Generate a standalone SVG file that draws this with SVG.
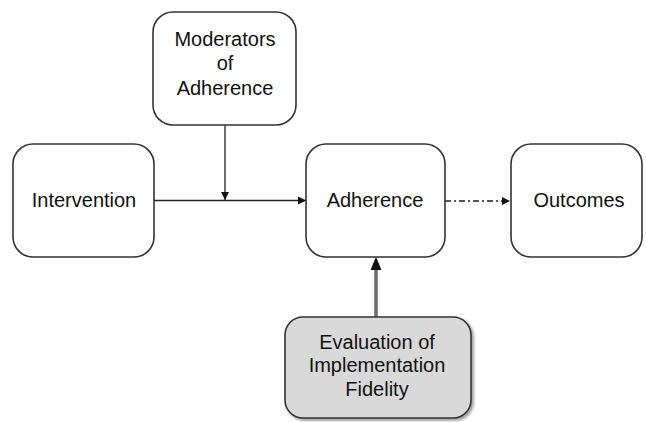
<svg xmlns="http://www.w3.org/2000/svg" width="646" height="422" viewBox="0 0 646 422">
<defs>
<marker id="ah" markerWidth="10" markerHeight="10" refX="9" refY="5" orient="auto" markerUnits="userSpaceOnUse">
<path d="M1,1 L9,5 L1,9 Z" fill="#111"/>
</marker>
<filter id="sh" x="-10%" y="-10%" width="125%" height="130%">
<feGaussianBlur in="SourceAlpha" stdDeviation="1.5"/>
<feOffset dx="2" dy="2"/>
<feComponentTransfer><feFuncA type="linear" slope="0.4"/></feComponentTransfer>
<feMerge><feMergeNode/><feMergeNode in="SourceGraphic"/></feMerge>
</filter>
</defs>
<style>
.box{fill:#fff;stroke:#333;stroke-width:1.6}
.gbox{fill:#d9d9d9;stroke:#333;stroke-width:1.6}
.t{font-family:"Liberation Sans",Arial,sans-serif;font-size:20px;fill:#111;text-anchor:middle}
.ln{stroke:#222;stroke-width:1.3;fill:none}
</style>
<rect width="646" height="422" fill="#fff"/>
<g id="connectors">
<line class="ln" x1="225" y1="125" x2="225" y2="200" marker-end="url(#ah)"/>
<line class="ln" x1="154" y1="200.5" x2="306" y2="200.5" marker-end="url(#ah)"/>
<line class="ln" x1="445" y1="201" x2="510" y2="201" stroke-dasharray="6 3 2 3" marker-end="url(#ah)"/>
<line x1="376" y1="317" x2="376" y2="260" stroke="#444" stroke-width="3.2"/>
<line x1="376" y1="317" x2="376" y2="262" stroke="#999" stroke-width="1"/>
<path d="M370.5,270 L376,257 L381.5,270 Z" fill="#111"/>
</g>
<g id="moderators">
<rect class="box" x="153" y="12" width="143" height="113" rx="20"/>
<text class="t" x="225" y="46">Moderators</text>
<text class="t" x="225" y="70">of</text>
<text class="t" x="225" y="95">Adherence</text>
</g>
<g id="intervention">
<rect class="box" x="13" y="144" width="141" height="113" rx="20"/>
<text class="t" x="84" y="207">Intervention</text>
</g>
<g id="adherence">
<rect class="box" x="306" y="144" width="139" height="113" rx="20"/>
<text class="t" x="375" y="207">Adherence</text>
</g>
<g id="outcomes">
<rect class="box" x="511" y="144" width="131" height="113" rx="20"/>
<text class="t" x="579" y="207">Outcomes</text>
</g>
<g id="evaluation">
<rect class="gbox" x="285" y="317" width="186" height="101" rx="18" filter="url(#sh)"/>
<text class="t" x="377" y="349">Evaluation of</text>
<text class="t" x="377" y="372">Implementation</text>
<text class="t" x="377" y="396">Fidelity</text>
</g>
</svg>
